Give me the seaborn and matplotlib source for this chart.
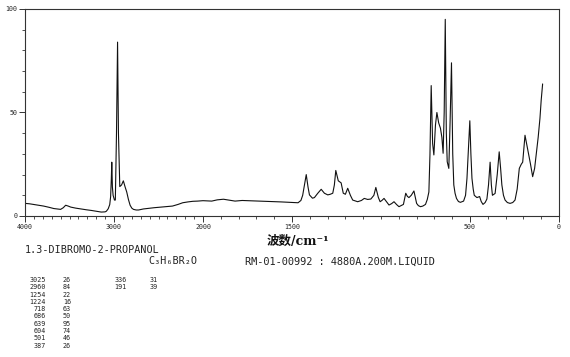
import numpy as np
import pandas as pd
import matplotlib
matplotlib.use("Agg")
import matplotlib.pyplot as plt
from matplotlib.ticker import FixedLocator, FixedFormatter
import seaborn as sns

# ---------------- data ----------------
wavenumber = [
    4000, 3950, 3905, 3850, 3791, 3730, 3676, 3600, 3570, 3543, 3515, 3486, 3430, 3371,
    3310, 3257, 3200, 3143, 3100, 3086, 3065, 3048, 3038, 3030, 3025, 3018, 3010, 2995,
    2985, 2972, 2960, 2950, 2935, 2915, 2895, 2875, 2857, 2838, 2819, 2800, 2781, 2750,
    2724, 2670, 2610, 2550, 2495, 2420, 2343, 2280, 2228, 2170, 2114, 2060, 2000, 1951,
    1920, 1885, 1850, 1820, 1780, 1746, 1700, 1653, 1610, 1560, 1510, 1466, 1450, 1440,
    1430, 1420, 1410, 1402, 1385, 1374, 1355, 1336, 1318, 1299, 1285, 1271, 1262, 1254,
    1240, 1224, 1212, 1200, 1187, 1172, 1159, 1131, 1110, 1094, 1075, 1057, 1040, 1029,
    1015, 1005, 995, 983, 970, 955, 940, 927, 912, 899, 874, 861, 852, 843, 830, 815,
    807, 800, 790, 778, 765, 750, 740, 731, 725, 718, 710, 703, 694, 686, 676, 666, 658,
    651, 645, 639, 633, 628, 619, 612, 604, 597, 591, 584, 576, 565, 554, 536, 525, 517,
    509, 501, 495, 489, 482, 476, 461, 446, 437, 427, 415, 405, 396, 387, 380, 374, 366,
    359, 347, 336, 328, 321, 312, 303, 290, 275, 260, 247, 235, 223, 212, 204, 197, 191,
    182, 173, 160, 148, 137, 126, 117, 107, 100, 92,
]
intensity = [
    6.1, 5.9, 5.6, 5.2, 4.8, 4.2, 3.6, 3.2, 4.0, 5.2, 4.8, 4.3, 3.8, 3.4,
    3.0, 2.7, 2.3, 1.9, 2.0, 2.3, 3.5, 5.5, 9.3, 18, 26, 14, 10, 7.7,
    7.7, 40, 84, 40, 14.2, 15, 17, 14, 11.6, 8, 5.2, 3.8, 3.2, 2.9,
    2.9, 3.4, 3.7, 4.0, 4.2, 4.5, 4.8, 5.6, 6.4, 6.8, 7.1, 7.2, 7.4, 7.2,
    7.8, 8.1, 7.6, 7.2, 7.5, 7.4, 7.3, 7.1, 7.0, 6.8, 6.6, 6.4, 7.5, 10,
    15, 20, 14, 10.2, 8.6, 8.9, 11, 12.9, 11, 10.2, 10.5, 11, 15, 22,
    17, 16, 11, 10.5, 13.4, 10, 7.7, 6.9, 7.5, 8.5, 8.0, 8.2, 10, 13.8,
    9, 6.9, 7.5, 8.5, 7, 5.3, 6, 6.9, 5.5, 4.5, 5.6, 11, 9.5, 8.9, 10, 12.1,
    9, 6.1, 5, 4.5, 4.8, 5.6, 8, 11.6, 29.5, 63, 35, 29.5, 44, 50, 45, 42.4, 38,
    30.3, 50, 95, 40, 26.2, 23, 45, 74, 30, 15, 11, 8.5, 7, 6.6, 7.2, 10, 18.2,
    32, 46, 30, 18.2, 13, 10, 8.9, 9.4, 7, 5.6, 6.5, 8.2, 15, 26, 15, 10, 10.5,
    10.9, 20, 31, 23, 15, 10, 7.7, 6.5, 6.1, 6.5, 7.7, 13, 23, 25, 26, 33, 39,
    35, 31, 25, 19, 23, 31, 38, 47.2, 56, 63.8,
]

xtick_values = [4000, 3000, 2000, 1500, 500, 0]
xtick_labels = ["4000", "3000", "2000", "1500", "500", "0"]
ytick_values = [0, 50, 100]
ytick_labels = ["0", "50", "100"]

compound = "1.3-DIBROMO-2-PROPANOL"
formula = "C\u2083H\u2086BR\u2082O"
info = "RM-01-00992 : 4880A.200M.LIQUID"
xlabel = "\u6ce2\u6570/cm\u207b\u00b9"

peak_wn = ["3025", "2960", "1254", "1224", "718", "686", "639", "604", "501", "387", "336", "191"]
peak_int = ["26", "84", "22", "16", "63", "50", "95", "74", "46", "26", "31", "39"]

# ---------------- figure ----------------
sns.set_theme(style="ticks")
plt.rcParams["font.family"] = ["DejaVu Sans", "Noto Sans CJK SC"]

W, H = 570, 357
fig = plt.figure(figsize=(W / 100, H / 100), dpi=100)
fig.patch.set_facecolor("white")
left, right, top, bottom = 25, 559, 9, 216
ax = fig.add_axes([left / W, 1 - bottom / H, (right - left) / W, (bottom - top) / H])
ax.set_facecolor("white")

df = pd.DataFrame({"wn": wavenumber, "I": intensity})
sns.lineplot(data=df, x="wn", y="I", ax=ax, color="#111111", linewidth=0.8,
             sort=False, estimator=None)


def fwd(w):
    w = np.asarray(w, dtype=float)
    return np.where(w >= 2000, 2000 + (w - 2000) / 2.0, w)


def inv(u):
    u = np.asarray(u, dtype=float)
    return np.where(u >= 2000, 2000 + (u - 2000) * 2.0, u)


ax.set_xscale("function", functions=(fwd, inv))
ax.set_xlim(4000, 0)
ax.set_ylim(0, 100)

ax.xaxis.set_major_locator(FixedLocator(xtick_values))
ax.xaxis.set_major_formatter(FixedFormatter(xtick_labels))
ax.xaxis.set_minor_locator(FixedLocator(list(range(0, 4001, 100))))
ax.yaxis.set_major_locator(FixedLocator(ytick_values))
ax.yaxis.set_major_formatter(FixedFormatter(ytick_labels))
ax.yaxis.set_minor_locator(FixedLocator(list(range(0, 101, 10))))

ax.tick_params(axis="both", which="major", direction="out", length=4, width=0.7,
               color="#333333", labelsize=4.8, pad=1.5)
ax.tick_params(axis="both", which="minor", direction="out", length=2.2, width=0.6,
               color="#333333")
for lab in ax.get_xticklabels() + ax.get_yticklabels():
    lab.set_family("DejaVu Sans Mono")
ax.set_xlabel("")
ax.set_ylabel("")
for s in ax.spines.values():
    s.set_visible(True)
    s.set_color("#333333")
    s.set_linewidth(0.8)


def fx(px):
    return px / W


def fy(py):
    return 1 - py / H


fig.text(fx(298), fy(241), xlabel, ha="center", va="center", fontsize=9,
         fontweight="bold", family=["DejaVu Serif", "Noto Sans CJK SC"], color="#111111")
mono = dict(family="DejaVu Sans Mono", color="#222222", va="center")
fig.text(fx(25), fy(250), compound, ha="left", fontsize=7.3, **mono)
fig.text(fx(148), fy(261.5), formula, ha="left", fontsize=7.3, **mono)
fig.text(fx(245), fy(261.5), info, ha="left", fontsize=7.4, **mono)

rows_left = 10
for i in range(len(peak_wn)):
    if i < rows_left:
        r, cx1, cx2 = i, 46, 63
    else:
        r, cx1, cx2 = i - rows_left, 127, 150
    yy = fy(280 + r * 7.3)
    fig.text(fx(cx1), yy, peak_wn[i], ha="right", fontsize=4.9, **mono)
    fig.text(fx(cx2), yy, peak_int[i], ha="left", fontsize=4.9, **mono)

fig.savefig("out.png", dpi=100, facecolor="white")
